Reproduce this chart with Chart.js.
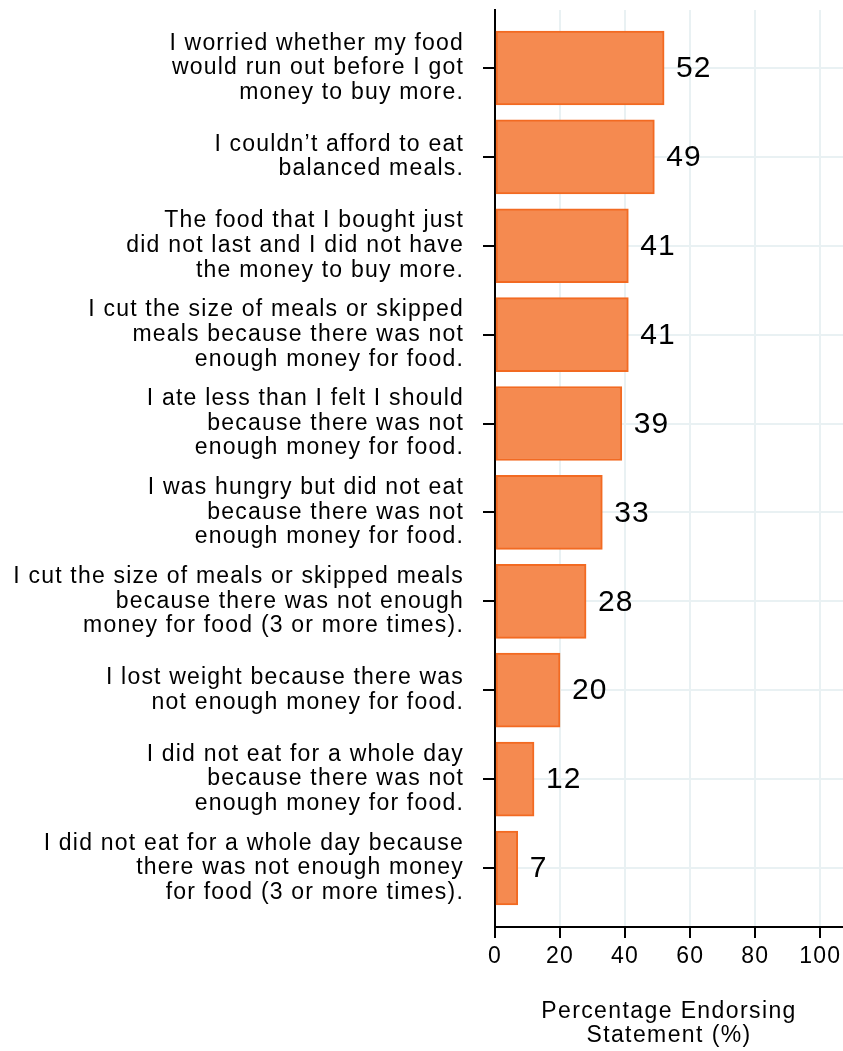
<!DOCTYPE html>
<html>
<head>
<meta charset="utf-8">
<script src="https://cdn.jsdelivr.net/npm/chart.js@4"></script>
<style>
  html, body { margin: 0; padding: 0; background: #fff; }
  canvas { display: block; }
</style>
</head>
<body>
<canvas id="c" width="843" height="1051"></canvas>
<script>
// statements, top to bottom
const statements = [
  ["I worried whether my food", "would run out before I got", "money to buy more."],
  ["I couldn\u2019t afford to eat", "balanced meals."],
  ["The food that I bought just", "did not last and I did not have", "the money to buy more."],
  ["I cut the size of meals or skipped", "meals because there was not", "enough money for food."],
  ["I ate less than I felt I should", "because there was not", "enough money for food."],
  ["I was hungry but did not eat", "because there was not", "enough money for food."],
  ["I cut the size of meals or skipped meals", "because there was not enough", "money for food (3 or more times)."],
  ["I lost weight because there was", "not enough money for food."],
  ["I did not eat for a whole day", "because there was not", "enough money for food."],
  ["I did not eat for a whole day because", "there was not enough money", "for food (3 or more times)."]
]
const percents = [52, 49, 41, 41, 39, 33, 28, 20, 12, 7]
const xTicks = [0, 20, 40, 60, 80, 100]

const FONT = "'Liberation Sans', Arial, Helvetica, sans-serif"
const grid_color = "#E9F1F3"

const points = percents.map((v, i) => ({x: v, y: i + 1}))

// the reference text is tracked out a little, canvas letterSpacing does that
function spaced(fn, sp) {
  return function (...args) {
    const c = this.ctx
    c.letterSpacing = sp
    fn.apply(this, args)
    c.letterSpacing = "0px"
  }
}

const tracking = {
  id: "tracking",
  beforeDraw(chart) {
    const x = chart.scales.x, y = chart.scales.y
    if (!y._spaced) {
      y.drawLabels = spaced(y.drawLabels, "1.2px")
      y._spaced = true
    }
    if (!x._spaced) {
      x.drawLabels = spaced(x.drawLabels, "1.2px")
      x.drawTitle = spaced(x.drawTitle, "1.4px")
      x._spaced = true
    }
  }
}

// value label to the right of each bar
const valueLabels = {
  id: "valueLabels",
  afterDatasetsDraw(chart) {
    const ctx = chart.ctx
    const meta = chart.getDatasetMeta(0)
    ctx.save()
    ctx.font = "30px " + FONT
    ctx.letterSpacing = "1px"
    ctx.fillStyle = "#000"
    ctx.textAlign = "left"
    ctx.textBaseline = "middle"
    meta.data.forEach((bar, i) => {
      ctx.fillText(String(percents[i]), bar.x + 12, bar.y + 1)
    })
    ctx.letterSpacing = "0px"
    ctx.restore()
  }
}

const chart = new Chart(document.getElementById("c").getContext("2d"), {
  type: "bar",
  data: {
    datasets: [{
      data: points,
      backgroundColor: "#F58A50",
      borderColor: "#F26A22",
      borderWidth: 2,
      borderSkipped: false,
      barThickness: 74
    }]
  },
  options: {
    indexAxis: "y",
    responsive: false,
    devicePixelRatio: 1,
    animation: false,
    layout: {padding: {top: 10, right: 0, left: 0, bottom: 0}},
    plugins: {legend: {display: false}, tooltip: {enabled: false}},
    scales: {
      x: {
        type: "linear",
        min: 0,
        max: 107,
        afterBuildTicks: (s) => { s.ticks = xTicks.map(v => ({value: v})) },
        afterFit: (s) => { s.height = 124; s.paddingLeft = 0; s.paddingRight = 0 },
        border: {display: true, color: "#000", width: 2},
        grid: {color: grid_color, lineWidth: 2, tickColor: "#000", tickLength: 11, drawTicks: true},
        ticks: {color: "#000", font: {family: FONT, size: 23}, padding: 5, maxRotation: 0},
        title: {
          display: true,
          text: ["Percentage Endorsing", "Statement (%)"],
          color: "#000",
          font: {family: FONT, size: 23, lineHeight: 1.02},
          padding: {top: 0, bottom: 4}
        }
      },
      y: {
        type: "linear",
        reverse: true,
        offset: false,
        min: 0.348,
        max: 10.664,
        afterBuildTicks: (s) => { s.ticks = statements.map((_, i) => ({value: i + 1})) },
        afterFit: (s) => { s.width = 495; s.paddingTop = 0; s.paddingBottom = 0 },
        border: {display: true, color: "#000", width: 2},
        grid: {color: grid_color, lineWidth: 2, tickColor: "#000", tickLength: 12, drawTicks: true, offset: false},
        ticks: {
          color: "#000",
          font: {family: FONT, size: 23, lineHeight: 1.07},
          padding: 19,
          autoSkip: false,
          callback: (v) => statements[v - 1]
        }
      }
    }
  },
  plugins: [tracking, valueLabels]
})
</script>
</body>
</html>
